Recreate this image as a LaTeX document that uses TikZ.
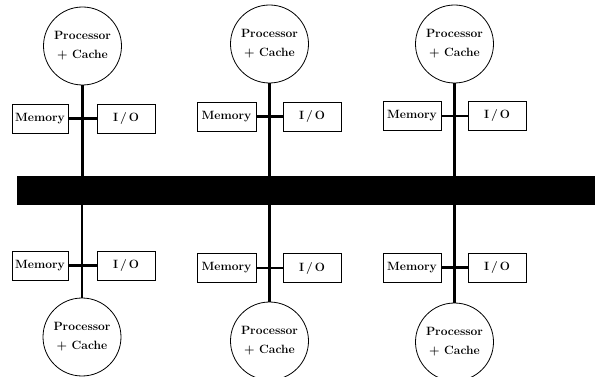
\documentclass[tikz,border=0pt]{standalone}
\usetikzlibrary{positioning}
\begin{document}
\begin{tikzpicture}[x=1pt,y=-1pt,
  lbl/.style={font=\fontsize{12}{14}\selectfont\bfseries},
  cpu/.style={circle,draw,line width=0.8pt,minimum size=78pt,inner sep=0pt,align=center,lbl},
  unitbox/.style={draw,line width=0.8pt,minimum height=29pt,inner sep=0pt,lbl},
  link/.style={line width=2.2pt}]
\useasboundingbox (0,0) rectangle (595,377);
\clip (0,0) rectangle (595,377);

% the shared bus
\node[fill=black,draw=none,minimum width=578pt,minimum height=29pt,inner sep=0pt,anchor=north west] (bus) at (17,176) {};

% upper row of nodes
\node[cpu] (p1) at (82.5,46) {Processor\\[5pt]+ Cache};
\node[cpu] (p2) at (269.5,44) {Processor\\[5pt]+ Cache};
\node[cpu] (p3) at (454.5,44) {Processor\\[5pt]+ Cache};
\node[unitbox,minimum width=56pt] (m1) at (40,118.5) {Memory};
\node[unitbox,minimum width=58pt] (io1) at (126,118.5) {I\,/\,O};
\node[unitbox,minimum width=59pt] (m2) at (226.5,116.5) {Memory};
\node[unitbox,minimum width=58pt] (io2) at (312,116.5) {I\,/\,O};
\node[unitbox,minimum width=58pt] (m3) at (412,116) {Memory};
\node[unitbox,minimum width=58pt] (io3) at (497,116) {I\,/\,O};

% lower row of nodes
\node[cpu] (q1) at (82,337) {Processor\\[5pt]+ Cache};
\node[cpu] (q2) at (269.5,341) {Processor\\[5pt]+ Cache};
\node[cpu] (q3) at (454.5,342) {Processor\\[5pt]+ Cache};
\node[unitbox,minimum width=56pt] (n1) at (40,265.5) {Memory};
\node[unitbox,minimum width=58pt] (jo1) at (126,265.5) {I\,/\,O};
\node[unitbox,minimum width=59pt] (n2) at (226.5,268) {Memory};
\node[unitbox,minimum width=58pt] (jo2) at (312,268) {I\,/\,O};
\node[unitbox,minimum width=58pt] (n3) at (412,267.5) {Memory};
\node[unitbox,minimum width=58pt] (jo3) at (497,267.5) {I\,/\,O};

% taps from each processor to the bus
\foreach \p in {p1,p2,p3}
  \draw[link] (\p.south) -- (\p.south |- bus.north);
\foreach \q in {q1,q2,q3}
  \draw[link] (\q.north) -- (\q.north |- bus.south);

% memory and I/O attached across each tap
\draw[link] (m1.east) -- (io1.west);
\draw[link] (m2.east) -- (io2.west);
\draw[link] (m3.east) -- (io3.west);
\draw[link] (n1.east) -- (jo1.west);
\draw[link] (n2.east) -- (jo2.west);
\draw[link] (n3.east) -- (jo3.west);
\end{tikzpicture}
\end{document}
